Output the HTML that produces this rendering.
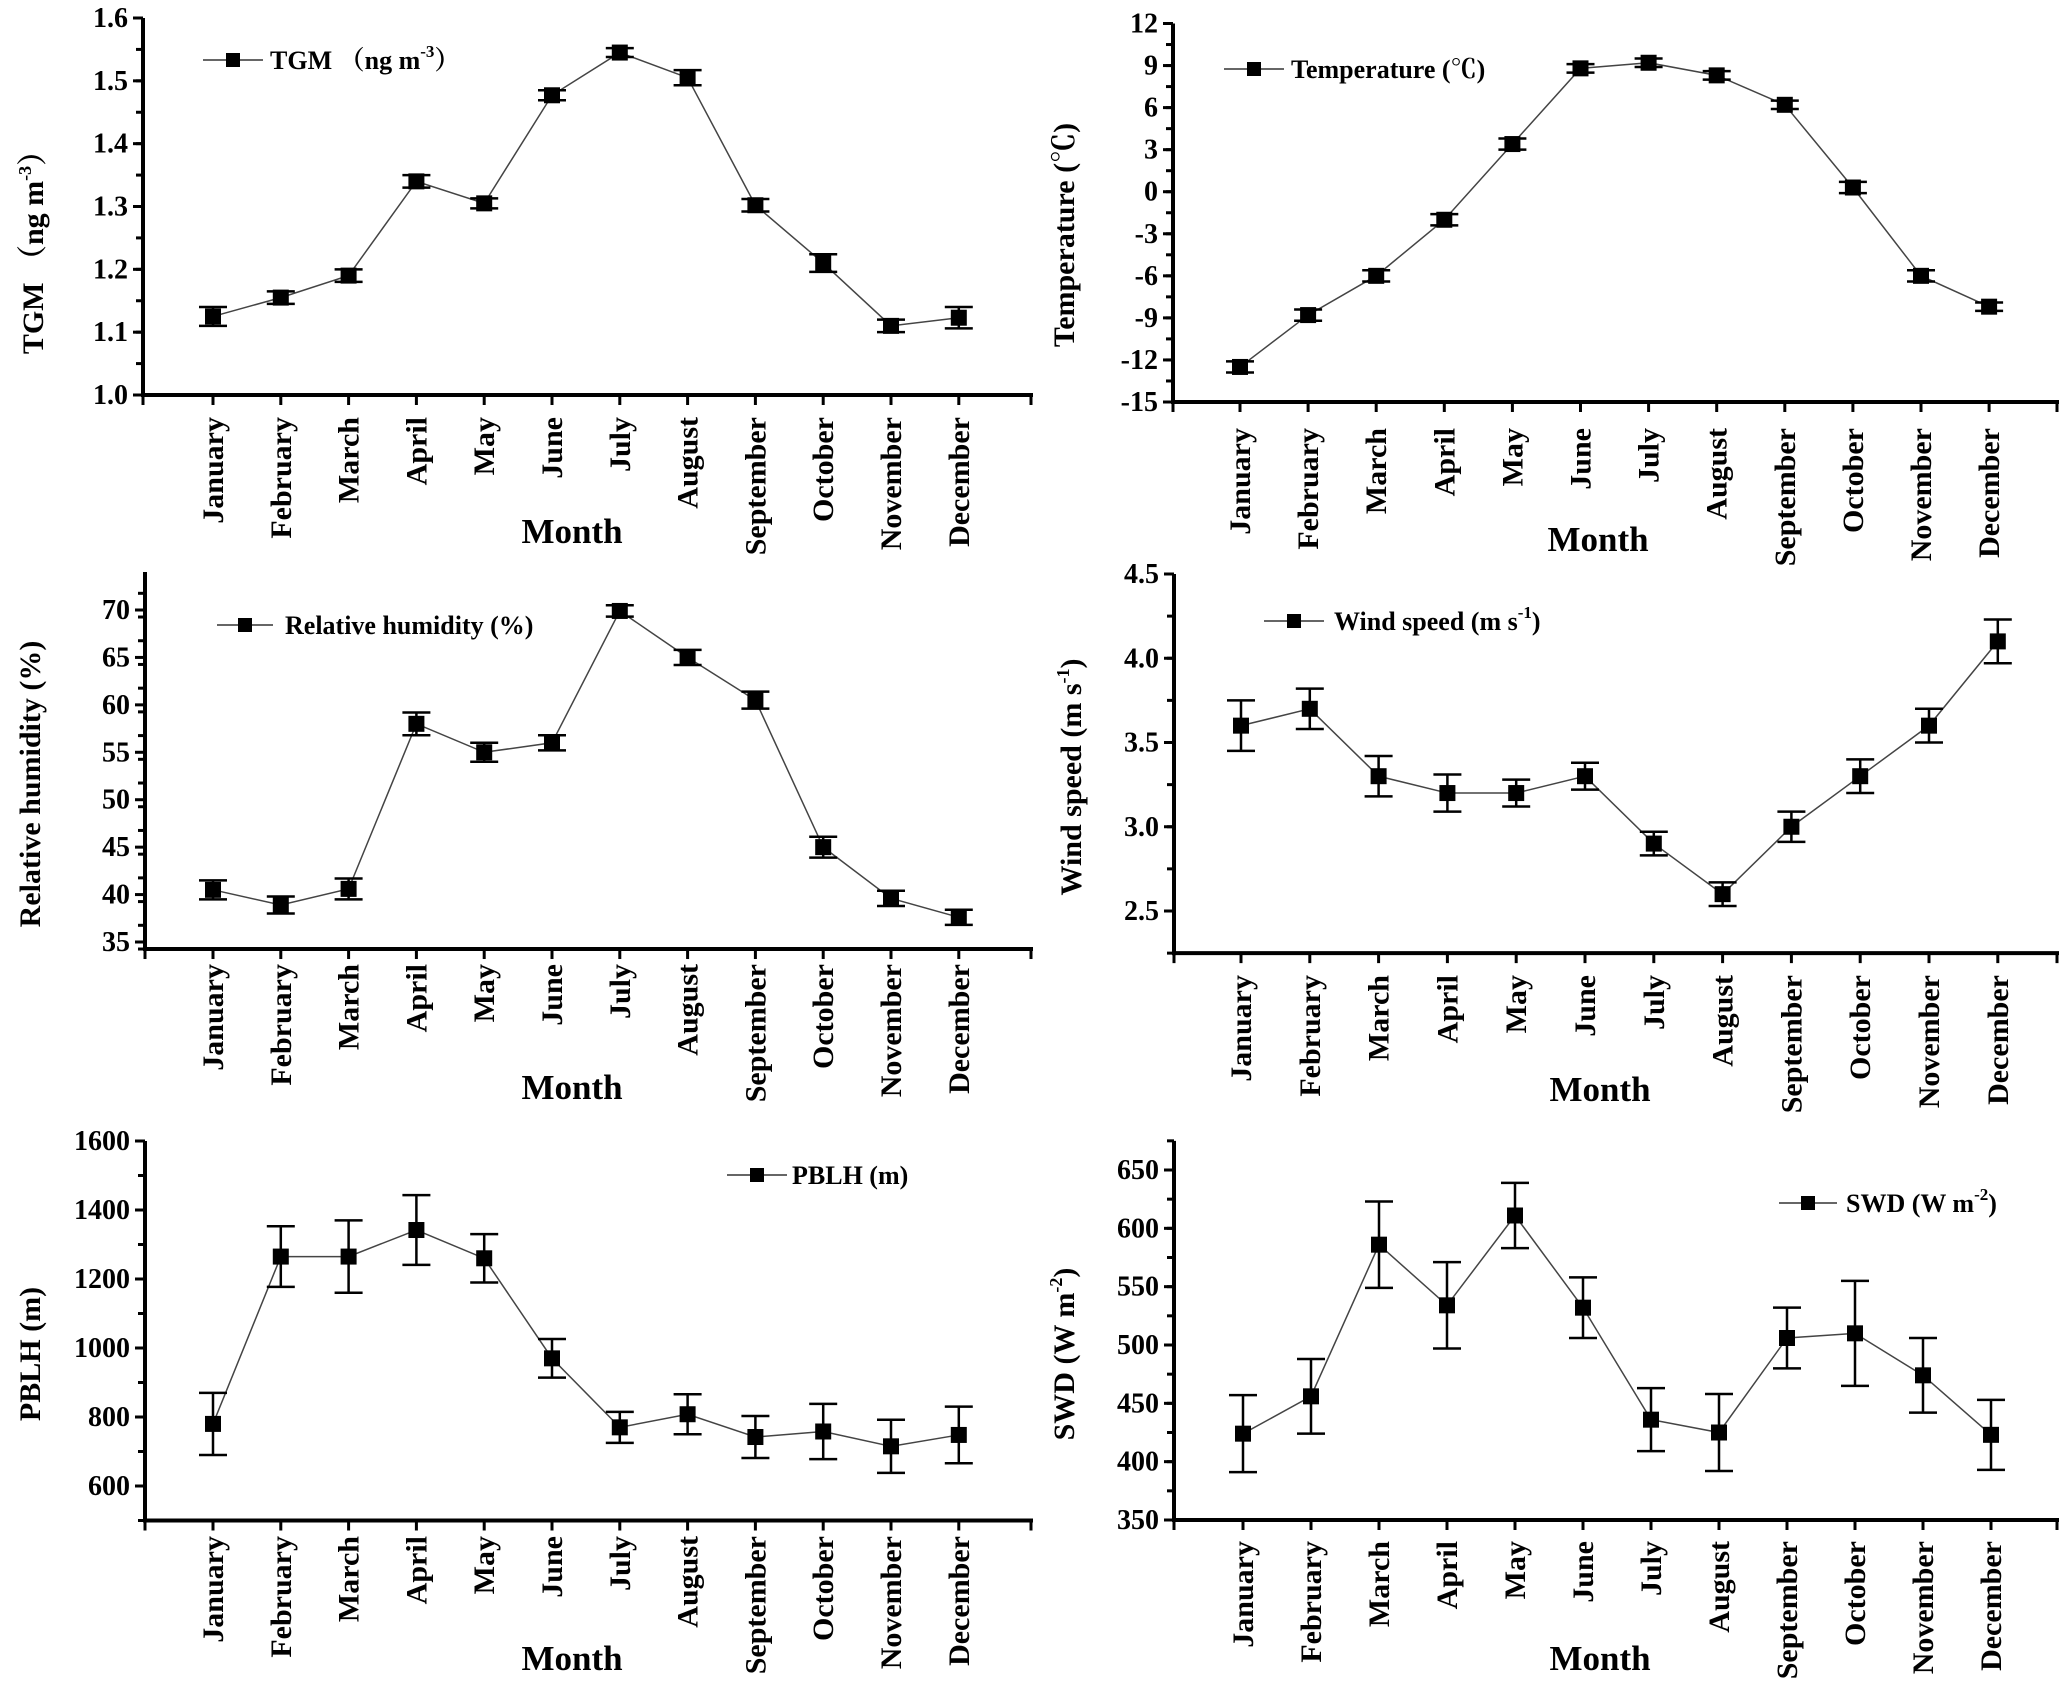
<!DOCTYPE html>
<html><head><meta charset="utf-8">
<style>
html,body{margin:0;padding:0;background:#fff;}
svg{display:block;}
text{font-family:"Liberation Serif","Noto Serif CJK SC",serif;font-weight:bold;fill:#000;}
</style></head>
<body>
<svg id="fig" width="2067" height="1686" viewBox="0 0 2067 1686" xmlns="http://www.w3.org/2000/svg"></svg>
<script>
const months = ["January","February","March","April","May","June","July","August","September","October","November","December"];

const tgmValues = [1.125,1.155,1.19,1.34,1.305,1.477,1.545,1.505,1.302,1.21,1.11,1.123];
const tgmErrors = [0.015,0.01,0.01,0.01,0.008,0.008,0.007,0.012,0.01,0.014,0.01,0.017];
const tgmTicks = ["1.0","1.1","1.2","1.3","1.4","1.5","1.6"];

const tempValues = [-12.5,-8.8,-6.0,-2.0,3.4,8.8,9.2,8.3,6.2,0.3,-6.0,-8.2];
const tempErrors = [0.4,0.4,0.4,0.4,0.4,0.3,0.3,0.3,0.3,0.4,0.4,0.3];
const tempTicks = ["-15","-12","-9","-6","-3","0","3","6","9","12"];

const rhValues = [40.5,38.9,40.6,58,55,56,69.9,65,60.5,45,39.6,37.6];
const rhErrors = [1.0,0.9,1.1,1.2,1.0,0.8,0.6,0.8,0.9,1.1,0.8,0.8];
const rhTicks = ["35","40","45","50","55","60","65","70"];

const wsValues = [3.6,3.7,3.3,3.2,3.2,3.3,2.9,2.6,3.0,3.3,3.6,4.1];
const wsErrors = [0.15,0.12,0.12,0.11,0.08,0.08,0.07,0.07,0.09,0.1,0.1,0.13];
const wsTicks = ["2.5","3.0","3.5","4.0","4.5"];

const pblhValues = [780,1265,1265,1342,1260,970,770,808,742,758,715,748];
const pblhErrors = [90,88,105,101,70,56,45,58,61,80,77,82];
const pblhTicks = ["600","800","1000","1200","1400","1600"];

const swdValues = [424,456,586,534,611,532,436,425,506,510,474,423];
const swdErrors = [33,32,37,37,28,26,27,33,26,45,32,30];
const swdTicks = ["350","400","450","500","550","600","650"];

const NS = "http://www.w3.org/2000/svg";
const svg = document.getElementById("fig");
function mk(tag, attrs, parent){
  const e = document.createElementNS(NS, tag);
  for (const k in attrs) e.setAttribute(k, attrs[k]);
  (parent||svg).appendChild(e);
  return e;
}

function panel(cfg){
  const g = mk("g", {});
  
  
  const vmin = cfg.vmin, vmax = cfg.vmax;
  const y = v => cfg.y0 + (v - cfg.v0) * (cfg.y1 - cfg.y0) / (cfg.v1 - cfg.v0);
  const x = i => cfg.xJan + i * cfg.step;
  const axBottom = y(vmin), axTop = y(vmax);
  const ya = mk("line", {x1:cfg.ax, y1:axTop, x2:cfg.ax, y2:axBottom+2, stroke:"#000","stroke-width":4}, g);
  
  
  const xa = mk("line", {x1:cfg.ax-2, y1:axBottom, x2:cfg.xEnd, y2:axBottom, stroke:"#000","stroke-width":4}, g);
  
  
  cfg.ticks.forEach((t) => {
    const v = parseFloat(t);
    const ty = y(v);
    mk("line", {x1:cfg.ax-10, y1:ty, x2:cfg.ax, y2:ty, stroke:"#000","stroke-width":3}, g);
    const tl = mk("text", {x:cfg.ax-15, y:ty+9, "text-anchor":"end", "font-size":28}, g);
    tl.textContent = t;
    
    
  });
  for (let v = vmin; v <= vmax + 1e-9; v += cfg.minor) {
    mk("line", {x1:cfg.ax-7, y1:y(v), x2:cfg.ax, y2:y(v), stroke:"#000","stroke-width":3}, g);
  }
  const xt = [cfg.ax];
  months.forEach((m,i)=>xt.push(x(i)));
  xt.push(cfg.xEnd-2);
  xt.forEach(px => mk("line", {x1:px, y1:axBottom, x2:px, y2:axBottom+10, stroke:"#000","stroke-width":3}, g));
  months.forEach((m,i)=>{
    const t = mk("text", {transform:`translate(${x(i)+10},${cfg.labTop}) rotate(-90)`, "text-anchor":"end", "font-size":30}, g);
    t.textContent = m;
    
    
  });
  const mt = mk("text", {x:cfg.monthX, y:cfg.monthY+12, "text-anchor":"middle", "font-size":35}, g);
  mt.textContent = "Month";
  
  
  const yt = mk("text", {transform:`translate(${cfg.ytX+10},${cfg.ytY}) rotate(-90)`, "text-anchor":"middle", "font-size":30}, g);
  yt.innerHTML = cfg.ytitle;
  
  
  const pts = cfg.values.map((v,i)=>`${x(i)},${y(v)}`).join(" ");
  const pl = mk("polyline", {points:pts, fill:"none", stroke:"#444","stroke-width":1.5}, g);
  
  
  cfg.values.forEach((v,i)=>{
    const cx = x(i), e = cfg.errors[i];
    const hi = y(v+e), lo = y(v-e);
    const eb = mk("path", {d:`M${cx},${hi}V${lo}M${cx-14},${hi}H${cx+14}M${cx-14},${lo}H${cx+14}`, stroke:"#000","stroke-width":2.5, fill:"none"}, g);
    
    
    const r = mk("rect", {x:cx-8, y:y(v)-8, width:16, height:16, fill:"#000"}, g);
    
    
  });
  const lg = mk("g", {}, g);
  
  
  mk("line", {x1:cfg.lx1, y1:cfg.ly, x2:cfg.lx2, y2:cfg.ly, stroke:"#333","stroke-width":1.5}, lg);
  mk("rect", {x:(cfg.lx1+cfg.lx2)/2-7, y:cfg.ly-7, width:14, height:14, fill:"#000"}, lg);
  const lt = mk("text", {x:cfg.ltx, y:cfg.ly+9, "font-size":26}, lg);
  lt.innerHTML = cfg.legend;
}

panel({name:"tgm", values:tgmValues, errors:tgmErrors, ticks:tgmTicks, minor:0.05,
  v0:1.0, y0:395, v1:1.6, y1:18, vmin:1.0, vmax:1.6,
  ax:143, xEnd:1033, xJan:213, step:67.8, labTop:417, monthX:572, monthY:531,
  ytX:33, ytY:245, ytitle:'TGM （ng m<tspan dy="-12" font-size="18">-3</tspan><tspan dy="12">）</tspan>',
  lx1:203, lx2:263, ly:60, ltx:270, legend:'TGM （ng m<tspan dy="-12" font-size="17">-3</tspan><tspan dy="12">）</tspan>'});

panel({name:"temperature", values:tempValues, errors:tempErrors, ticks:tempTicks, minor:1.5,
  v0:-15, y0:402, v1:12, y1:23.5, vmin:-15, vmax:12,
  ax:1173, xEnd:2059, xJan:1240, step:68.1, labTop:428, monthX:1598, monthY:539,
  ytX:1064, ytY:235, ytitle:'Temperature (℃)',
  lx1:1224, lx2:1284, ly:69, ltx:1291, legend:'Temperature (℃)'});

panel({name:"humidity", values:rhValues, errors:rhErrors, ticks:rhTicks, minor:2.5,
  v0:35, y0:942, v1:70, y1:610, vmin:34.26, vmax:74,
  ax:145, xEnd:1033, xJan:213, step:67.8, labTop:964, monthX:572, monthY:1087,
  ytX:30, ytY:784, ytitle:'Relative  humidity (%)',
  lx1:217, lx2:273, ly:625, ltx:285, legend:'Relative  humidity (%)'});

panel({name:"wind-speed", values:wsValues, errors:wsErrors, ticks:wsTicks, minor:0.25,
  v0:2.5, y0:911, v1:4.5, y1:574, vmin:2.25, vmax:4.5,
  ax:1174, xEnd:2059, xJan:1241, step:68.8, labTop:975, monthX:1600, monthY:1089,
  ytX:1071, ytY:777, ytitle:'Wind  speed (m s<tspan dy="-12" font-size="18">-1</tspan><tspan dy="12">)</tspan>',
  lx1:1264, lx2:1324, ly:621, ltx:1334, legend:'Wind  speed (m s<tspan dy="-12" font-size="17">-1</tspan><tspan dy="12">)</tspan>'});

panel({name:"pblh", values:pblhValues, errors:pblhErrors, ticks:pblhTicks, minor:100,
  v0:600, y0:1486, v1:1600, y1:1141, vmin:500, vmax:1600,
  ax:145, xEnd:1033, xJan:213, step:67.8, labTop:1536, monthX:572, monthY:1658,
  ytX:30, ytY:1354, ytitle:'PBLH (m)',
  lx1:727, lx2:787, ly:1175, ltx:792, legend:'PBLH (m)'});

panel({name:"swd", values:swdValues, errors:swdErrors, ticks:swdTicks, minor:25,
  v0:350, y0:1520, v1:650, y1:1170, vmin:350, vmax:675,
  ax:1174, xEnd:2059, xJan:1243, step:68.0, labTop:1541, monthX:1600, monthY:1658,
  ytX:1064, ytY:1354, ytitle:'SWD (W m<tspan dy="-12" font-size="18">-2</tspan><tspan dy="12">)</tspan>',
  lx1:1779, lx2:1837, ly:1203, ltx:1846, legend:'SWD (W m<tspan dy="-12" font-size="17">-2</tspan><tspan dy="12">)</tspan>'});
</script>
</body></html>
